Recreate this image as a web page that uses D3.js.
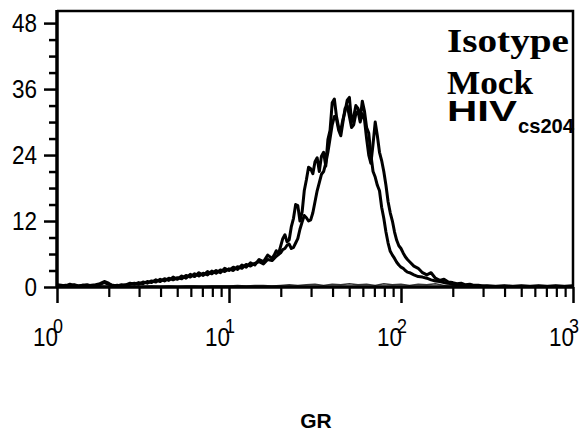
<!DOCTYPE html>
<html>
<head>
<meta charset="utf-8">
<script src="https://cdn.jsdelivr.net/npm/d3@7"></script>
<style>
  body { margin: 0; background: #fff; }
  svg { display: block; }
</style>
</head>
<body>
<div id="chart"></div>
<script>
// log10(GR) channel positions for the Mock and HIV histograms
const logGR = [
  0.000, 0.025, 0.050, 0.075, 0.100, 0.125, 0.150, 0.175, 0.200, 0.225,
  0.250, 0.275, 0.300, 0.325, 0.350, 0.375, 0.400, 0.425, 0.450, 0.475,
  0.500, 0.525, 0.550, 0.575, 0.600, 0.625, 0.650, 0.675, 0.700, 0.725,
  0.750, 0.775, 0.800, 0.825, 0.850, 0.875, 0.900, 0.925, 0.950, 0.975,
  1.000, 1.025, 1.050, 1.075, 1.100, 1.125, 1.150, 1.175, 1.200, 1.225,
  1.250,
  1.2625, 1.275, 1.2875, 1.300, 1.3125, 1.325, 1.3375, 1.350,
  1.3625, 1.375, 1.3875, 1.400, 1.4125, 1.425, 1.4375, 1.450,
  1.4625, 1.475, 1.4875, 1.500, 1.5125, 1.525, 1.5375, 1.550,
  1.5625, 1.575, 1.5875, 1.600, 1.6125, 1.625, 1.6375, 1.650,
  1.6625, 1.675, 1.6875, 1.700, 1.7125, 1.725, 1.7375, 1.750,
  1.7625, 1.775, 1.7875, 1.800, 1.8125, 1.825, 1.8375, 1.850,
  1.8625, 1.875, 1.8875, 1.900, 1.9125, 1.925, 1.9375, 1.950,
  1.9625, 1.975, 1.9875, 2.000, 2.0125, 2.025, 2.0375, 2.050,
  2.075, 2.100, 2.125, 2.150, 2.175, 2.200, 2.225, 2.250, 2.275, 2.300,
  2.325, 2.350, 2.375, 2.400, 2.425, 2.450, 2.475, 2.500, 2.525, 2.550,
  2.575, 2.600, 2.625, 2.650, 2.675, 2.700, 2.725, 2.750, 2.775, 2.800,
  2.825, 2.850, 2.875, 2.900, 2.925, 2.950, 2.975, 3.000
];

const mock = [
  0.4, 0.3, 0.2, 0.5, 0.3, 0.2, 0.3, 0.2, 0.3, 0.4,
  0.6, 1.0, 0.7, 0.2, 0.3, 0.2, 0.4, 0.7, 0.5, 0.8,
  0.6, 1.0, 0.8, 1.3, 1.0, 1.5, 1.2, 1.8, 1.4, 2.0,
  1.6, 2.3, 1.9, 2.6, 2.1, 2.8, 2.4, 3.0, 2.6, 3.4,
  3.0, 3.6, 3.2, 4.0, 3.6, 4.4, 4.0, 5.0, 4.6, 5.8,
  5.2,
  5.8, 6.6, 6.0, 7.4, 8.8, 9.5, 8.2, 8.6,
  11.0, 12.5, 15.0, 14.8, 12.0, 13.6, 17.5, 19.5,
  21.8, 21.5, 20.6, 22.8, 23.5, 21.0, 23.8, 24.5,
  22.0, 26.8, 28.5, 33.5, 34.2, 31.0, 29.0, 28.5,
  30.5, 32.0, 34.0, 34.5, 30.0, 31.0, 33.0, 32.5,
  30.5, 33.8, 32.0, 29.0, 28.0, 24.0, 21.0, 20.0,
  18.5, 17.5, 14.5, 12.5, 10.0, 8.0, 6.5, 5.8,
  5.2, 4.5, 4.0, 3.6, 3.4, 3.0, 2.7, 2.6,
  2.2, 1.9, 1.8, 1.6, 1.3, 1.1, 1.0, 0.8, 0.7, 0.5,
  0.4, 0.3, 0.3, 0.2, 0.2, 0.1, 0.1, 0.1, 0.1, 0.1,
  0.1, 0.1, 0.1, 0.1, 0.1, 0.1, 0.1, 0.1, 0.1, 0.1,
  0.1, 0.1, 0.1, 0.1, 0.1, 0.1, 0.1, 0.1
];

const hiv = [
  0.3, 0.2, 0.3, 0.2, 0.4, 0.2, 0.3, 0.4, 0.2, 0.3,
  0.5, 0.8, 0.5, 0.3, 0.2, 0.4, 0.3, 0.5, 0.7, 0.5,
  0.9, 0.7, 1.1, 0.9, 1.4, 1.1, 1.6, 1.3, 1.7, 1.5,
  2.1, 1.8, 2.4, 2.0, 2.5, 2.2, 2.9, 2.5, 3.1, 2.8,
  3.3, 3.0, 3.7, 3.4, 4.1, 3.8, 4.3, 4.6, 4.2, 5.0,
  4.8,
  5.2, 5.6, 5.9, 6.2, 6.8, 7.0, 7.6, 7.8,
  7.0, 7.2, 8.0, 8.8, 10.5, 11.8, 13.0, 12.6,
  12.0, 12.2, 13.5, 15.5, 17.5, 19.0, 20.5, 21.0,
  22.5, 24.5, 27.0, 29.5, 31.0, 30.5, 28.5, 27.5,
  30.0, 32.5, 33.0, 31.0, 29.0, 29.5, 31.5, 32.0,
  30.0, 31.5, 30.5, 27.0, 24.0, 22.5, 26.0, 30.0,
  27.5, 24.5, 23.0, 21.0, 18.5, 15.5, 13.5, 12.0,
  10.0, 8.5, 7.5, 7.0, 6.2, 5.5, 5.0, 4.6,
  3.8, 3.4, 2.6, 2.2, 2.6, 1.6, 1.2, 1.4, 0.9, 0.8,
  0.6, 0.7, 0.4, 0.5, 0.3, 0.3, 0.2, 0.1, 0.1, 0.1,
  0.1, 0.1, 0.1, 0.1, 0.1, 0.1, 0.1, 0.1, 0.1, 0.1,
  0.1, 0.1, 0.1, 0.1, 0.1, 0.1, 0.1, 0.1
];

// isotype control, coarser channels
const isoLogGR = [
  0.00, 0.05, 0.10, 0.15, 0.20, 0.25, 0.30, 0.35, 0.40, 0.45,
  0.50, 0.55, 0.60, 0.65, 0.70, 0.75, 0.80, 0.85, 0.90, 0.95,
  1.00, 1.05, 1.10, 1.15, 1.20, 1.25, 1.30, 1.35, 1.40, 1.45,
  1.50, 1.55, 1.60, 1.65, 1.70, 1.75, 1.80, 1.85, 1.90, 1.95,
  2.00, 2.05, 2.10, 2.15, 2.20, 2.25, 2.30, 2.35, 2.40, 2.45,
  2.50, 2.55, 2.60, 2.65, 2.70, 2.75, 2.80, 2.85, 2.90, 2.95,
  3.00
];
const isotype = [
  0.1, 0.1, 0.2, 0.1, 0.1, 0.2, 0.1, 0.1, 0.2, 0.1,
  0.1, 0.2, 0.1, 0.2, 0.1, 0.2, 0.2, 0.1, 0.2, 0.2,
  0.2, 0.3, 0.2, 0.3, 0.3, 0.2, 0.3, 0.4, 0.3, 0.4,
  0.5, 0.3, 0.5, 0.4, 0.6, 0.4, 0.5, 0.3, 0.6, 0.4,
  0.5, 0.3, 0.5, 0.4, 0.6, 0.3, 0.4, 0.3, 0.5, 0.3,
  0.4, 0.3, 0.4, 0.3, 0.4, 0.3, 0.4, 0.3, 0.4, 0.3,
  0.4
];

const yTicks = [0, 12, 24, 36, 48];
const yMinor = [3, 6, 9, 15, 18, 21, 27, 30, 33, 39, 42, 45];
const xTicks = [1, 10, 100, 1000];
const xExponents = ["0", "1", "2", "3"];
const legendLines = ["Isotype", "Mock", "HIV"];

const width = 580, height = 444;
const margin = { top: 11, right: 7, bottom: 157, left: 58 };

const svg = d3.select("#chart").append("svg")
  .attr("width", width)
  .attr("height", height);

const x = d3.scaleLog()
  .domain([1, 1000])
  .range([margin.left - 1, width - margin.right]);

const y = d3.scaleLinear()
  .domain([0, 50.2])
  .range([height - margin.bottom, margin.top]);

const line = xs => d3.line()
  .x((d, i) => x(Math.pow(10, xs[i])))
  .y(d => y(d));

// histograms
svg.append("path")
  .datum(isotype)
  .attr("d", line(isoLogGR))
  .attr("fill", "none")
  .attr("stroke", "#333")
  .attr("stroke-width", 1.4);

[mock, hiv].forEach(s => {
  svg.append("path")
    .datum(s)
    .attr("d", line(logGR))
    .attr("fill", "none")
    .attr("stroke", "#000")
    .attr("stroke-width", 3)
    .attr("stroke-linejoin", "round");
});

// frame (top and right)
const x0 = x(1), x1 = x(1000), yTop = margin.top, yBot = y(0);
svg.append("path")
  .attr("d", `M${x0},${yTop}H${x1}V${yBot}`)
  .attr("fill", "none")
  .attr("stroke", "#000")
  .attr("stroke-width", 2.5);

// Y axis
const yAxis = svg.append("g")
  .attr("transform", `translate(${x0},0)`)
  .call(d3.axisLeft(y).tickValues(yTicks).tickSize(13).tickPadding(7));
yAxis.select(".domain").remove();
yAxis.selectAll("line").attr("stroke-width", 2.5);
yAxis.selectAll("text")
  .attr("font-family", "'Liberation Sans', Arial, sans-serif")
  .attr("font-size", 25)
  .attr("fill", "#000")
  .attr("textLength", d => String(d).length * 12.5)
  .attr("lengthAdjust", "spacingAndGlyphs");

svg.append("g")
  .attr("transform", `translate(${x0},0)`)
  .call(d3.axisLeft(y).tickValues(yMinor).tickSize(8).tickFormat(""))
  .call(g => g.select(".domain").remove())
  .selectAll("line").attr("stroke-width", 2.5);

svg.append("line")
  .attr("x1", x0).attr("x2", x0)
  .attr("y1", yTop - 1).attr("y2", yBot + 1)
  .attr("stroke", "#000").attr("stroke-width", 3.5);

// X axis
const xMinor = [];
[1, 10, 100].forEach(b => [2, 3, 4, 5, 6, 7, 8, 9].forEach(m => xMinor.push(b * m)));

svg.append("g")
  .attr("transform", `translate(0,${yBot})`)
  .call(d3.axisBottom(x).tickValues(xMinor).tickSize(10).tickFormat(""))
  .call(g => g.select(".domain").remove())
  .selectAll("line").attr("stroke-width", 2.2);

const xAxis = svg.append("g")
  .attr("transform", `translate(0,${yBot})`)
  .call(d3.axisBottom(x).tickValues(xTicks).tickSize(16).tickFormat(""));
xAxis.select(".domain").remove();
xAxis.selectAll("line").attr("stroke-width", 2.5);

svg.append("line")
  .attr("x1", x0 - 1).attr("x2", x1 + 1)
  .attr("y1", yBot).attr("y2", yBot)
  .attr("stroke", "#000").attr("stroke-width", 3.5);

const xLab = svg.append("g")
  .attr("font-family", "'Liberation Sans', Arial, sans-serif")
  .attr("fill", "#000");

xTicks.forEach((t, i) => {
  xLab.append("text")
    .attr("x", x(t) + 1)
    .attr("y", yBot + 59)
    .attr("text-anchor", "end")
    .attr("font-size", 25)
    .attr("textLength", 25)
    .attr("lengthAdjust", "spacingAndGlyphs")
    .text("10");
  xLab.append("text")
    .attr("x", x(t) - 4)
    .attr("y", yBot + 46)
    .attr("font-size", 21)
    .attr("textLength", 10)
    .attr("lengthAdjust", "spacingAndGlyphs")
    .text(xExponents[i]);
});

svg.append("text")
  .attr("x", 316)
  .attr("y", 428)
  .attr("text-anchor", "middle")
  .attr("font-family", "'Liberation Sans', Arial, sans-serif")
  .attr("font-weight", "bold")
  .attr("font-size", 21)
  .text("GR");

// legend
const leg = svg.append("g").attr("fill", "#000").attr("font-weight", "bold");
leg.append("text")
  .attr("x", 447).attr("y", 52)
  .attr("font-family", "'Liberation Serif', 'Times New Roman', serif")
  .attr("font-size", 33)
  .attr("textLength", 122)
  .attr("lengthAdjust", "spacingAndGlyphs")
  .text(legendLines[0]);
leg.append("text")
  .attr("x", 447).attr("y", 94)
  .attr("font-family", "'Liberation Serif', 'Times New Roman', serif")
  .attr("font-size", 33)
  .attr("textLength", 86)
  .attr("lengthAdjust", "spacingAndGlyphs")
  .text(legendLines[1]);
leg.append("text")
  .attr("x", 447).attr("y", 121)
  .attr("font-family", "'Liberation Sans', Arial, sans-serif")
  .attr("font-size", 30)
  .attr("textLength", 70)
  .attr("lengthAdjust", "spacingAndGlyphs")
  .text(legendLines[2]);
leg.append("text")
  .attr("x", 518).attr("y", 133)
  .attr("font-family", "'Liberation Sans', Arial, sans-serif")
  .attr("font-size", 21)
  .attr("textLength", 56)
  .attr("lengthAdjust", "spacingAndGlyphs")
  .text("cs204");
</script>
</body>
</html>
